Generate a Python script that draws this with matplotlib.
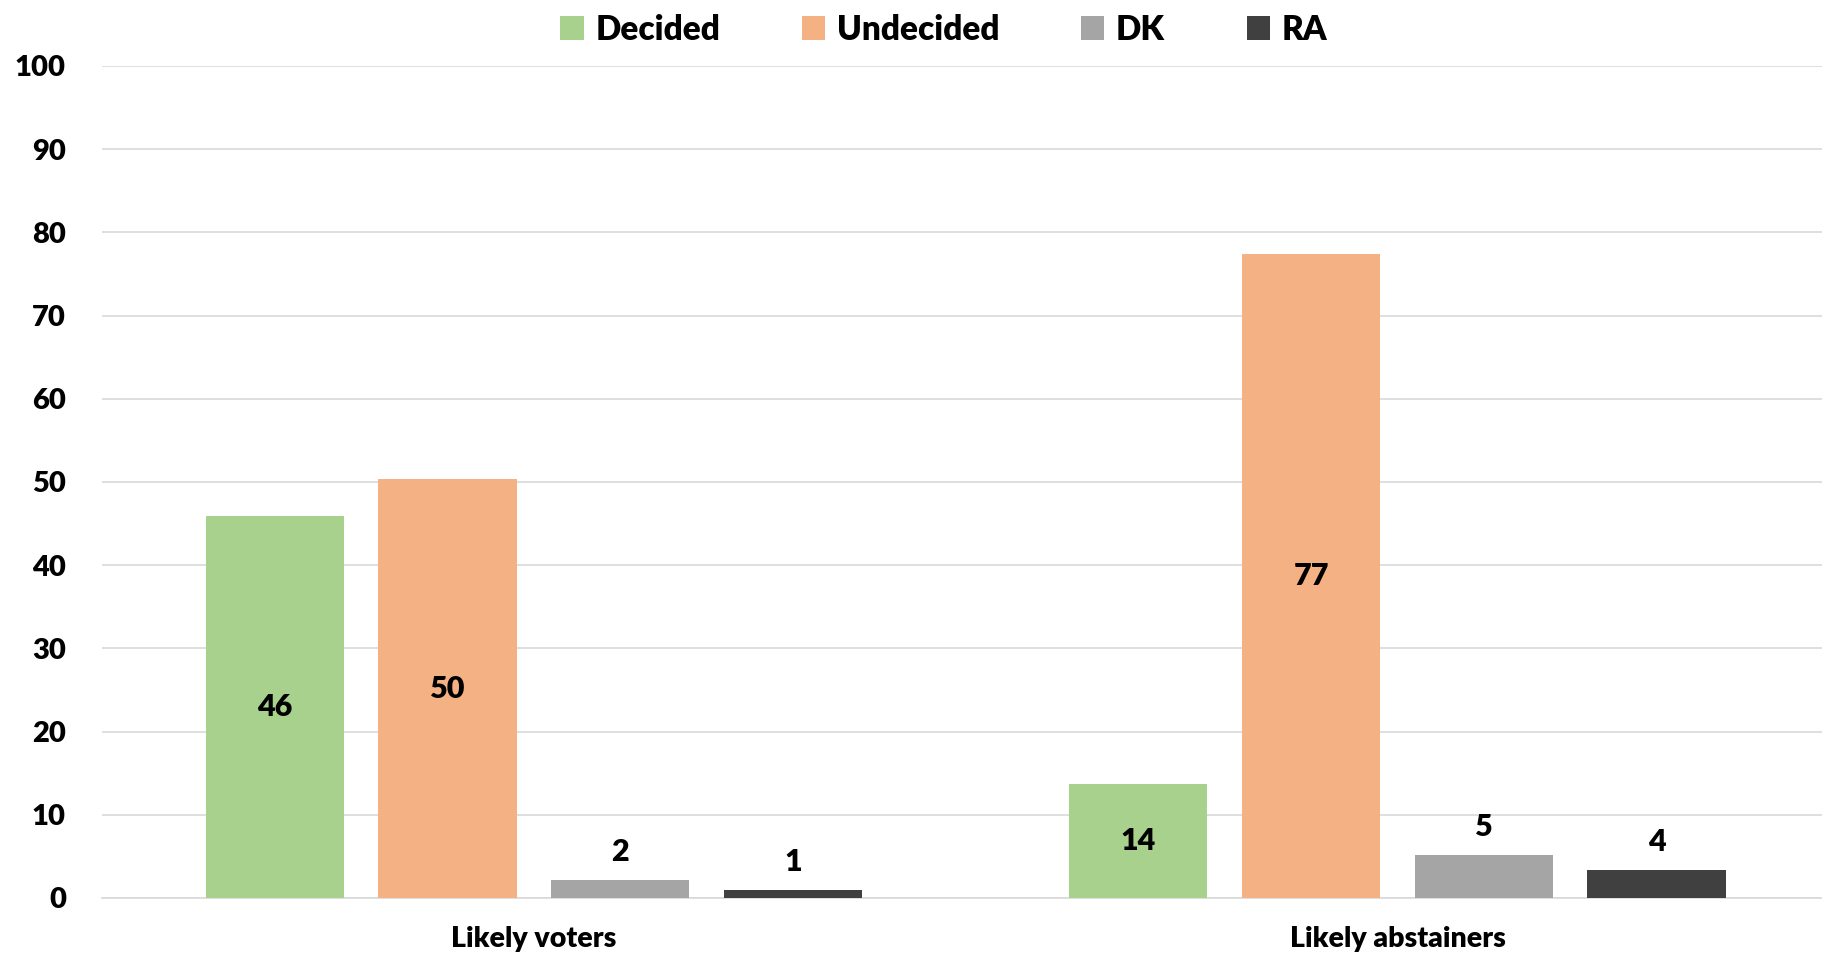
import matplotlib
matplotlib.use("Agg")
import matplotlib.pyplot as plt
from matplotlib.patches import Patch
import numpy as np

plt.rcParams['font.family'] = ['Lato', 'DejaVu Sans']
W = 'heavy'

categories = ["Likely voters", "Likely abstainers"]
series = ["Decided", "Undecided", "DK", "RA"]
values = {
    "Decided": [45.9, 13.7],
    "Undecided": [50.3, 77.4],
    "DK": [2.2, 5.2],
    "RA": [1.0, 3.4],
}
labels = {
    "Decided": ["46", "14"],
    "Undecided": ["50", "77"],
    "DK": ["2", "5"],
    "RA": ["1", "4"],
}
colors = {"Decided": "#a9d18e", "Undecided": "#f4b183", "DK": "#a5a5a5", "RA": "#404040"}
inside = {"Decided": True, "Undecided": True, "DK": False, "RA": False}
yticks = [0, 10, 20, 30, 40, 50, 60, 70, 80, 90, 100]

fig = plt.figure(figsize=(18.22, 9.56), dpi=100)
ax = fig.add_axes([0.056, 0.0607, 0.948, 0.8703])

x = np.arange(len(categories))
width = 0.16
step = 0.2
for i, s in enumerate(series):
    pos = x + (i - 1.5) * step
    bars = ax.bar(pos, values[s], width, color=colors[s], zorder=3)
    for b, lab, v in zip(bars, labels[s], values[s]):
        cx = b.get_x() + b.get_width() / 2
        if inside[s]:
            ax.text(cx, v / 2, lab, ha='center', va='center', fontsize=22, fontweight=W, color='black', zorder=4)
        else:
            ax.annotate(lab, (cx, v), xytext=(0, 10), textcoords='offset points', ha='center', va='bottom',
                        fontsize=22, fontweight=W, color='black', zorder=4)

ax.set_xlim(-0.5, 1.5)
ax.set_ylim(0, 100)
ax.set_yticks(yticks)
ax.set_yticklabels([str(t) for t in yticks], fontsize=21, fontweight=W)
ax.set_xticks(x)
ax.set_xticklabels(categories, fontsize=20.5, fontweight=W)
ax.tick_params(axis='y', length=0, pad=26)
ax.tick_params(axis='x', length=0, pad=20)
ax.yaxis.grid(True, color='#d9d9d9', linewidth=1.2, zorder=0)
for sp in ['top', 'right', 'left']:
    ax.spines[sp].set_visible(False)
ax.spines['bottom'].set_color('#d9d9d9')
ax.spines['bottom'].set_linewidth(1.2)

handles = [Patch(facecolor=colors[s], label=s) for s in series]
fig.legend(handles=handles, loc='center', bbox_to_anchor=(0.518, 0.969), ncol=4, frameon=False,
           handlelength=0.7, handleheight=0.7, handletextpad=0.35, columnspacing=2.45,
           prop={'weight': W, 'size': 24})

fig.savefig("out.png", dpi=100)
